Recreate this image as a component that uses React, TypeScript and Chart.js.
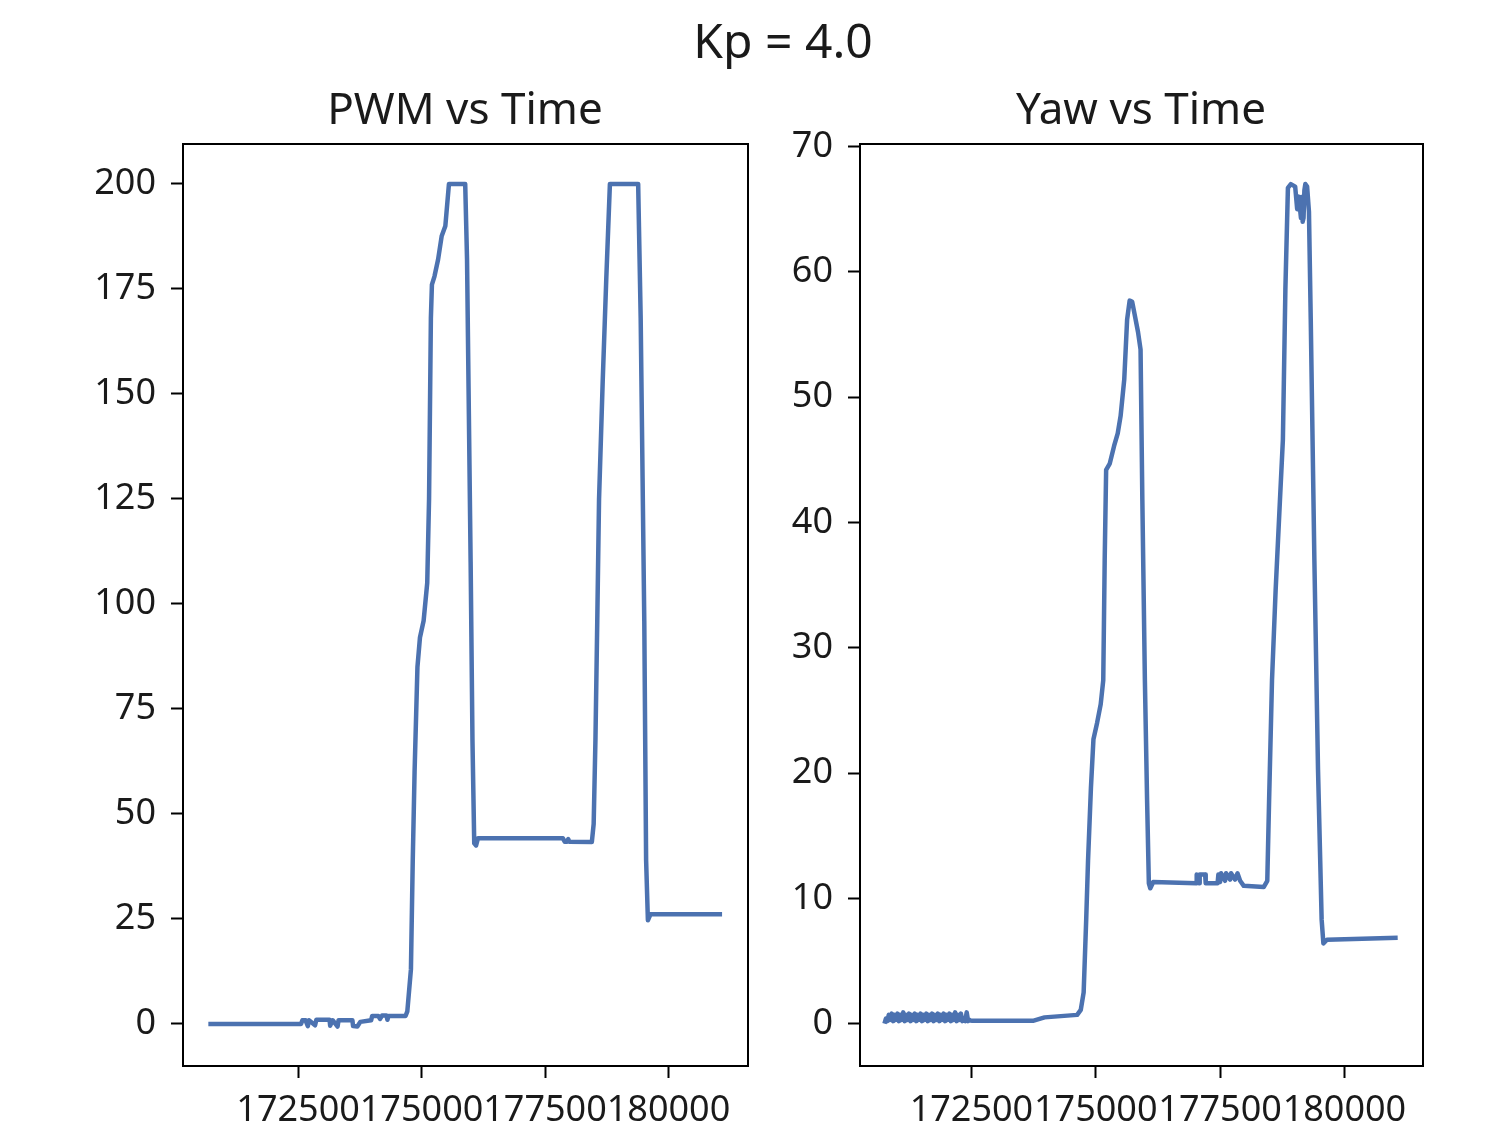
import React, { useEffect, useRef } from "react";
import { Chart, registerables } from "chart.js";

Chart.register(...registerables);

const suptitle = "Kp = 4.0";
const pwmTitle = "PWM vs Time";
const yawTitle = "Yaw vs Time";

const xTicks = [172500, 175000, 177500, 180000];
const pwmTicks = [0, 25, 50, 75, 100, 125, 150, 175, 200];
const yawTicks = [0, 10, 20, 30, 40, 50, 60, 70];

const pwmTime = [
  170683, 172560, 172588, 172650, 172698, 172720, 172844, 172870, 173137, 173150,
  173200, 173300, 173320, 173600, 173613, 173700, 173760, 173980, 174000, 174126,
  174160, 174200, 174290, 174309, 174330, 174676, 174712, 174785, 174822, 174859,
  174917, 174968, 175042, 175115, 175152, 175189, 175210, 175262, 175335, 175408,
  175482, 175555, 175884, 175921, 175994, 176031, 176067, 176104, 176141, 177862,
  177899, 177950, 177970, 177990, 178448, 178485, 178521, 178558, 178594, 178668,
  178741, 178814, 179386, 179437, 179510, 179547, 179583, 179635, 181085,
];
const pwmValues = [
  0, 0, 0.9, 0.9, -0.5, 0.9, -0.3, 1.0, 1.0, -0.4,
  0.9, -0.6, 0.9, 0.9, -0.5, -0.6, 0.5, 0.9, 1.9, 1.9,
  1.2, 2.0, 2.0, 1.0, 1.9, 1.9, 3, 13, 39, 60,
  85, 92, 96, 105, 125, 168, 176, 178, 182, 187.6,
  190, 200, 200, 182, 110, 67.6, 43, 42.5, 44.2, 44.2,
  43.4, 43.4, 44, 43.4, 43.3, 47.6, 67.6, 96, 125, 153,
  177.6, 200, 200, 168, 96, 39, 24.7, 26.1, 26.1,
];

const yawTime = [
  170752, 170781, 170810, 170839, 170868, 170897, 170926, 170955, 170984, 171013,
  171042, 171071, 171100, 171129, 171158, 171187, 171216, 171245, 171274, 171303,
  171332, 171361, 171390, 171419, 171448, 171477, 171506, 171535, 171564, 171593,
  171622, 171651, 171680, 171709, 171738, 171767, 171796, 171825, 171854, 171883,
  171912, 171941, 171970, 171999, 172028, 172057, 172086, 172115, 172144, 172173,
  172202, 172231, 172260, 172289, 172318, 172347, 172376, 172405, 172434, 172463,
  172478, 172515, 173753, 173971, 174626, 174699, 174757, 174808, 174845, 174903,
  174954, 175027, 175100, 175151, 175180, 175209, 175282, 175369, 175442, 175500,
  175573, 175631, 175682, 175733, 175777, 175850, 175901, 175937, 175988, 176032,
  176068, 176097, 176156, 177020, 177030, 177080, 177090, 177200, 177211, 177450,
  177466, 177500, 177520, 177600, 177620, 177700, 177720, 177800, 177850, 177903,
  177976, 178377, 178449, 178486, 178544, 178617, 178704, 178763, 178813, 178864,
  178923, 179010, 179050, 179083, 179126, 179150, 179160, 179178, 179195, 179214,
  179250, 179287, 179323, 179396, 179469, 179542, 179577, 179649, 181071,
];
const yawValues = [
  0.0, 0.4, 0.2, 0.7, 0.3, 0.8, 0.2, 0.7, 0.3, 0.8,
  0.2, 0.7, 0.3, 0.9, 0.2, 0.7, 0.3, 0.8, 0.2, 0.7,
  0.3, 0.8, 0.2, 0.7, 0.3, 0.8, 0.2, 0.7, 0.3, 0.8,
  0.2, 0.7, 0.3, 0.8, 0.2, 0.7, 0.3, 0.8, 0.2, 0.7,
  0.3, 0.8, 0.2, 0.7, 0.3, 0.8, 0.2, 0.7, 0.3, 0.9,
  0.2, 0.7, 0.3, 0.8, 0.2, 0.3, 0.2, 0.9, 0.2, 0.3,
  0.25, 0.24, 0.24, 0.5, 0.7, 1.1, 2.5, 8.3, 13, 18.8,
  22.7, 24, 25.5, 27.4, 37, 44.2, 44.7, 46.1, 47.1, 48.5,
  51.4, 56.2, 57.7, 57.6, 56.7, 55.2, 53.8, 41.8, 27.4, 17.9,
  11.2, 10.8, 11.3, 11.2, 11.9, 11.2, 11.9, 11.9, 11.2, 11.2,
  11.9, 11.3, 12.0, 11.4, 12.0, 11.5, 12.0, 11.5, 12.0, 11.4,
  11.0, 10.9, 11.4, 17.9, 27.4, 34.6, 41.8, 46.6, 58.6, 66.7,
  67, 66.8, 65, 66, 64.3, 66, 64, 64.3, 66.5, 67,
  66.8, 64.8, 56.2, 37, 20.3, 8.3, 6.4, 6.7, 6.85,
];

const FONT = "'Noto Sans', 'Open Sans', sans-serif";
const LINE = "#4c72b0";
const TEXT = "#1a1a1a";

const boxPlugin = {
  id: "box",
  afterDraw(chart: any) {
    const { ctx, chartArea } = chart;
    ctx.save();
    ctx.strokeStyle = "#000";
    ctx.lineWidth = 2;
    ctx.strokeRect(
      chartArea.left,
      chartArea.top,
      chartArea.right - chartArea.left,
      chartArea.bottom - chartArea.top
    );
    ctx.restore();
  },
};

function makeChart(
  canvas: HTMLCanvasElement,
  times: number[],
  values: number[],
  yTicks: number[],
  xmin: number,
  xmax: number,
  ymin: number,
  ymax: number,
  yWidth: number,
  padRight: number
) {
  const points = times.map((t, i) => ({ x: t, y: values[i] }));
  const tickFont = { family: FONT, size: 36 };
  return new Chart(canvas, {
    type: "line",
    data: {
      datasets: [
        {
          data: points,
          borderColor: LINE,
          borderWidth: 4.5,
          borderJoinStyle: "round",
          borderCapStyle: "butt",
          pointRadius: 0,
          tension: 0,
          fill: false,
        },
      ],
    },
    options: {
      animation: false,
      responsive: false,
      devicePixelRatio: 1,
      layout: { padding: { left: 0, top: 144, right: padRight, bottom: 0 } },
      plugins: { legend: { display: false }, title: { display: false }, tooltip: { enabled: false } },
      scales: {
        x: {
          type: "linear",
          min: xmin,
          max: xmax,
          afterBuildTicks: (s: any) => {
            s.ticks = xTicks.map((v) => ({ value: v }));
          },
          afterFit: (s: any) => {
            s.height = 66;
          },
          grid: {
            display: true,
            drawOnChartArea: false,
            drawTicks: true,
            tickLength: 12,
            tickWidth: 2,
            tickColor: "#000",
          },
          border: { display: false },
          ticks: {
            autoSkip: false,
            maxRotation: 0,
            minRotation: 0,
            padding: 11,
            color: TEXT,
            font: tickFont,
            callback: (v: any) => String(v),
          },
        },
        y: {
          type: "linear",
          min: ymin,
          max: ymax,
          afterBuildTicks: (s: any) => {
            s.ticks = yTicks.map((v) => ({ value: v }));
          },
          afterFit: (s: any) => {
            s.width = yWidth;
          },
          grid: {
            display: true,
            drawOnChartArea: false,
            drawTicks: true,
            tickLength: 12,
            tickWidth: 2,
            tickColor: "#000",
          },
          border: { display: false },
          ticks: {
            autoSkip: false,
            padding: 15,
            color: TEXT,
            font: tickFont,
            callback: (v: any) => String(v),
          },
        },
      },
    },
    plugins: [boxPlugin],
  } as any);
}

const textStyle = (left: number, top: number, width: number, size: number): React.CSSProperties => ({
  position: "absolute",
  left,
  top,
  width,
  textAlign: "center",
  fontFamily: FONT,
  fontSize: size,
  lineHeight: size + "px",
  color: TEXT,
  whiteSpace: "nowrap",
});

export default function App() {
  const leftRef = useRef<HTMLCanvasElement>(null);
  const rightRef = useRef<HTMLCanvasElement>(null);

  useEffect(() => {
    const c1 = makeChart(leftRef.current!, pwmTime, pwmValues, pwmTicks, 170170, 181610, -10, 209.5, 183, 12);
    const c2 = makeChart(rightRef.current!, yawTime, yawValues, yawTicks, 170260, 181580, -3.38, 70.2, 100, 72);
    return () => {
      c1.destroy();
      c2.destroy();
    };
  }, []);

  return (
    <div style={{ position: "absolute", left: 0, top: 0, width: 1495, height: 1132, background: "#fff", overflow: "hidden" }}>
      <canvas ref={leftRef} width={760} height={1132} style={{ position: "absolute", left: 0, top: 0, width: 760, height: 1132 }} />
      <canvas ref={rightRef} width={735} height={1132} style={{ position: "absolute", left: 760, top: 0, width: 735, height: 1132 }} />
      <div style={textStyle(583, 16, 400, 48)}>{suptitle}</div>
      <div style={textStyle(265, 85, 400, 44)}>{pwmTitle}</div>
      <div style={textStyle(941, 85, 400, 44)}>{yawTitle}</div>
    </div>
  );
}
